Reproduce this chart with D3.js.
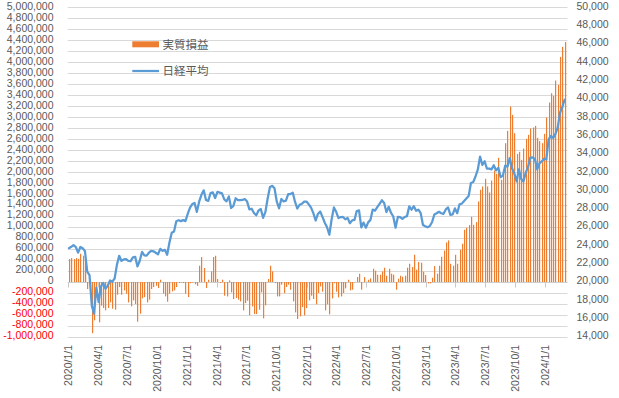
<!DOCTYPE html>
<html lang="ja">
<head>
<meta charset="utf-8">
<title>実質損益と日経平均</title>
<style>
  html, body { margin: 0; padding: 0; background: #fff; }
  svg { display: block; }
  .tick-label { font: 10.5px "Liberation Sans", Arial, sans-serif; fill: #595959; }
  .legend-label { font: 11.5px "Noto Sans CJK JP", sans-serif; fill: #595959; }
</style>
</head>
<body>
<svg id="chart" width="619" height="398"></svg>
<script src="https://cdn.jsdelivr.net/npm/d3@7"></script>
<script>
// weekly (Friday) data, first week 2020/1/3
const firstWeek = "2020/1/3";

// 実質損益 (thousand yen)
const pnl = [
  418, 436, 418, 436, 424, 515, 479, 358, -127, -242,
  -930, -697, -250, -733, -430, -473, -515, -473, -370, -485,
  -503, -230, -91, -230, -152, -212, -370, -442, -333, -400,
  -721, -576, -297, -273, -370, -321, -127, -91, -67, -109,
  42, -212, -261, -358, -212, -170, -152, -91, -18, -8,
  -18, -212, -273, -20, -10, -40, -70, 297, 455, 255,
  -109, 42, 194, 455, 479, 55, -18, 42, -248, -261,
  30, -188, -309, -291, -321, -352, -515, -382, -339, -606,
  -442, -582, -582, -503, -188, -661, -424, 55, 297, 194,
  -18, -261, -261, -48, -200, -91, -48, -139, -352, -552,
  -673, -624, -455, -606, -473, -333, -248, -309, -406, -200,
  -79, -176, -515, -406, -588, -297, -20, -176, -279, -261,
  -200, -115, 42, -152, -139, -5, 91, 152, -139, 91,
  5, 42, 67, 242, 206, 133, 133, 194, 261, 115,
  242, 152, 133, -139, 61, 115, 97, 115, 261, 333,
  273, 497, 224, 364, 352, 188, 127, -24, -24, 79,
  291, 152, 297, 461, 573, 721, 758, 333, 297, 497,
  333, 588, 697, 952, 988, 1036, 1188, 1042, 1091, 1467,
  1679, 1739, 1879, 1739, 1630, 1848, 2030, 1970, 2261, 1861,
  1950, 2527, 2752, 3194, 3042, 2709, 2333, 2370, 2224, 2430,
  2606, 2679, 2794, 2812, 2842, 2624, 2564, 2527, 2697, 2994,
  3267, 3436, 3388, 3667, 3588, 4097, 4279, 4370
].map(v => v * 1000);

// 日経平均 weekly close
const nikkei = [
  23700, 23850, 24041, 23827, 23205, 23827, 23687, 23386, 21142, 20749,
  17431, 16552, 19389, 17820, 19498, 19897, 19262, 19619, 20179, 20037,
  20388, 21878, 22863, 22305, 22478, 22512, 22306, 22291, 22696, 22751,
  21710, 22329, 23289, 22920, 22882, 23205, 23406, 23360, 23204, 23029,
  23619, 23410, 23516, 22977, 24325, 25385, 25527, 26644, 26751, 26652,
  26763, 26656, 27444, 28139, 28519, 28631, 27663, 28779, 29520, 30018,
  28966, 28864, 29717, 29792, 29176, 29854, 29768, 29683, 29020, 28812,
  29357, 28084, 28317, 29149, 28941, 28948, 28964, 29066, 28783, 27940,
  28003, 27548, 27283, 27820, 27977, 27013, 27641, 29128, 30381, 30500,
  30248, 28771, 28048, 29068, 28804, 28892, 29611, 29609, 29745, 28751,
  28029, 28437, 28545, 28782, 28791, 28478, 28124, 27522, 26717, 27439,
  27696, 27122, 26476, 25985, 25162, 26827, 28149, 27665, 26985, 27093,
  27105, 26847, 27003, 26427, 26739, 26781, 27761, 27824, 25963, 26491,
  25935, 26517, 26788, 27915, 27801, 28176, 28546, 28930, 28641, 27650,
  28214, 27567, 27153, 25937, 27116, 27090, 26890, 27105, 27199, 28263,
  27899, 28283, 27777, 27901, 27527, 26235, 26094, 25973, 26119, 26553,
  27382, 27509, 27670, 27513, 27453, 27927, 28143, 27333, 27385, 28041,
  27518, 28493, 28564, 28856, 29123, 29388, 30808, 30916, 31524, 32265,
  33706, 32781, 33189, 32388, 32391, 32304, 32759, 32193, 32474, 31450,
  31624, 32711, 32606, 33533, 32402, 31857, 30994, 32315, 31259, 30991,
  31950, 32568, 33585, 33625, 33431, 32307, 32970, 33169, 33464, 33377,
  35577, 35963, 35751, 36158, 36897, 38487, 39098, 39910
];

const xTickLabels = [
  "2020/1/1", "2020/4/1", "2020/7/1", "2020/10/1",
  "2021/1/1", "2021/4/1", "2021/7/1", "2021/10/1",
  "2022/1/1", "2022/4/1", "2022/7/1", "2022/10/1",
  "2023/1/1", "2023/4/1", "2023/7/1", "2023/10/1",
  "2024/1/1"
];
const leftTicks = d3.range(-1000000, 5000001, 200000);
const rightTicks = d3.range(14000, 50001, 2000);

const seriesNames = ["実質損益", "日経平均"];

// ---------- layout ----------
const plotLeft = 67.7, plotRight = 567.5, plotTop = 7.3, plotBottom = 337;
const barColor = "#ED7D31", lineColor = "#5B9BD5";

const parseDate = s => {
  const [y, m, d] = s.split("/").map(Number);
  return new Date(y, m - 1, d);
};
const start = parseDate(firstWeek);
const dates = nikkei.map((_, i) => d3.timeDay.offset(start, 7 * i));

const x = d3.scaleTime()
  .domain([parseDate("2020/1/1"), parseDate("2024/1/1")])
  .range([68.3, 545]);

const yL = d3.scaleLinear().domain([-1000000, 5000000]).range([plotBottom, plotTop]);
const yR = d3.scaleLinear().domain([14000, 50000]).range([plotBottom, plotTop]);

const svg = d3.select("#chart");
svg.append("rect").attr("width", 619).attr("height", 398).attr("fill", "#fff");

// gridlines
svg.append("g")
  .selectAll("line")
  .data(leftTicks)
  .join("line")
  .attr("x1", plotLeft).attr("x2", plotRight)
  .attr("y1", d => Math.round(yL(d)) + 0.5)
  .attr("y2", d => Math.round(yL(d)) + 0.5)
  .attr("stroke", "#D9D9D9")
  .attr("stroke-width", 1);

// left axis labels
const fmt = d3.format(",");
svg.append("g")
  .selectAll("text")
  .data(leftTicks)
  .join("text")
  .attr("class", "tick-label")
  .attr("x", 53.5)
  .attr("y", d => yL(d) - 1.3)
  .attr("dy", "0.35em")
  .attr("text-anchor", "end")
  .style("fill", d => d < 0 ? "#FF0000" : null)
  .text(d => fmt(d).replace("\u2212", "-"));

// right axis labels
svg.append("g")
  .selectAll("text")
  .data(rightTicks)
  .join("text")
  .attr("class", "tick-label")
  .attr("x", 576.5)
  .attr("y", d => yR(d) - 1.3)
  .attr("dy", "0.35em")
  .attr("text-anchor", "start")
  .text(d => fmt(d));

// category axis (zero line) with tick marks
const zeroY = Math.round(yL(0)) + 0.5;
svg.append("line")
  .attr("x1", plotLeft).attr("x2", plotRight)
  .attr("y1", zeroY).attr("y2", zeroY)
  .attr("stroke", "#D0D0D0");
svg.append("g")
  .selectAll("line")
  .data(xTickLabels)
  .join("line")
  .attr("x1", d => Math.round(x(parseDate(d))) + 0.5)
  .attr("x2", d => Math.round(x(parseDate(d))) + 0.5)
  .attr("y1", zeroY).attr("y2", zeroY + 5)
  .attr("stroke", "#C8C8C8");

// x labels, rotated
svg.append("g")
  .selectAll("text")
  .data(xTickLabels)
  .join("text")
  .attr("class", "tick-label")
  .attr("text-anchor", "end")
  .attr("dy", "0.35em")
  .attr("transform", d => `translate(${x(parseDate(d))},345) rotate(-90)`)
  .text(d => d);

// bars (snapped to whole pixels so they stay crisp)
const barW = 1.2;
svg.append("g")
  .selectAll("rect")
  .data(pnl)
  .join("rect")
  .attr("x", (d, i) => Math.round(x(dates[i])))
  .attr("y", d => Math.min(yL(d), yL(0)))
  .attr("width", barW)
  .attr("height", d => Math.abs(yL(d) - yL(0)))
  .attr("fill", barColor);

// nikkei line
const line = d3.line()
  .x((d, i) => x(dates[i]))
  .y(d => yR(d));
svg.append("path")
  .datum(nikkei)
  .attr("d", line)
  .attr("fill", "none")
  .attr("stroke", lineColor)
  .attr("stroke-width", 2.25)
  .attr("stroke-linejoin", "round")
  .attr("stroke-linecap", "round");

// legend
const legend = svg.append("g");
legend.append("rect")
  .attr("x", 132.3).attr("y", 41.3)
  .attr("width", 26.7).attr("height", 6)
  .attr("fill", barColor);
legend.append("text")
  .attr("class", "legend-label")
  .attr("x", 162.5).attr("y", 44.5).attr("dy", "0.35em")
  .text(seriesNames[0]);
legend.append("line")
  .attr("x1", 132.3).attr("x2", 159)
  .attr("y1", 71).attr("y2", 71)
  .attr("stroke", lineColor)
  .attr("stroke-width", 2.25);
legend.append("text")
  .attr("class", "legend-label")
  .attr("x", 162.5).attr("y", 71).attr("dy", "0.35em")
  .text(seriesNames[1]);
</script>
</body>
</html>
